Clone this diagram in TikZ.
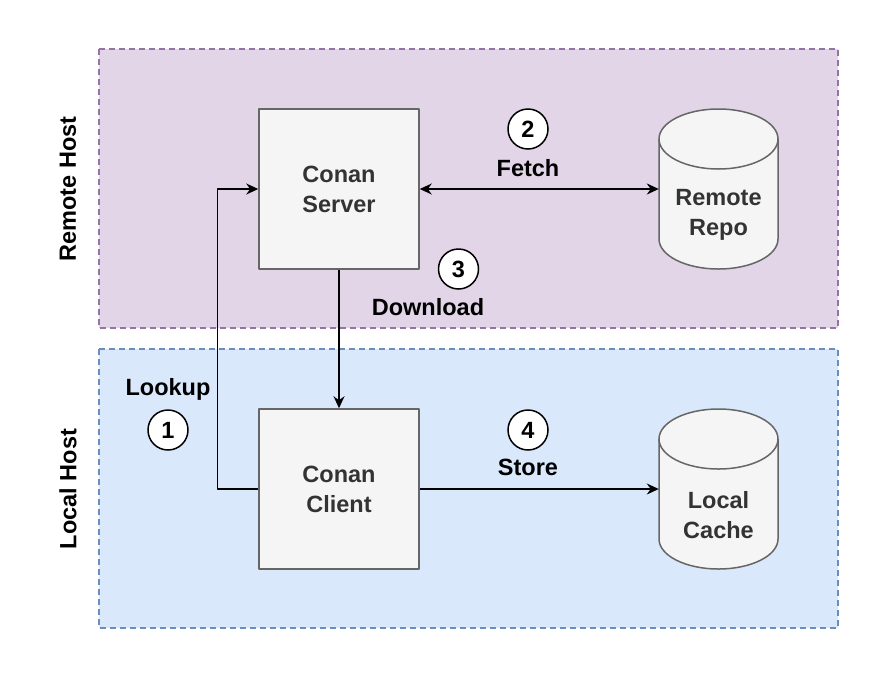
\documentclass[tikz,border=0pt]{standalone}
\usepackage{fontspec}
\setmainfont{Liberation Sans}
\usetikzlibrary{arrows.meta,positioning,calc}
\definecolor{remotefill}{HTML}{E1D5E7}
\definecolor{remoteline}{HTML}{9673A6}
\definecolor{localfill}{HTML}{DAE8FC}
\definecolor{localline}{HTML}{6C8EBF}
\definecolor{boxfill}{HTML}{F5F5F5}
\definecolor{boxline}{HTML}{666666}
\definecolor{boxtext}{HTML}{333333}

\begin{document}
\begin{tikzpicture}[x=1pt,y=-1pt, line join=round,
  font=\fontsize{23.5}{30}\selectfont\bfseries,
  hostbox/.style={dash pattern=on 6pt off 4pt, line width=1.3pt},
  hostlabel/.style={rotate=90},
  conan/.style={draw=boxline, fill=boxfill, line width=1.5pt, text=boxtext, align=center, minimum width=160pt, minimum height=160pt, inner sep=0pt},
  dbnode/.style={minimum width=119pt, minimum height=160pt, inner sep=0pt},
  db/.style={draw=boxline, fill=boxfill, line width=1.5pt},
  dbtext/.style={text=boxtext, align=center},
  badge/.style={circle, draw, fill=white, line width=1.5pt, minimum size=40pt, inner sep=0pt},
  link/.style={line width=1.5pt, -{Stealth[length=12pt,width=11pt]}}]
\useasboundingbox (0,0) rectangle (888,678);
% host areas
\draw[hostbox, draw=remoteline, fill=remotefill] (99,49) rectangle (838,328);
\draw[hostbox, draw=localline, fill=localfill] (99,349) rectangle (838,628);
\node[hostlabel] (remotehost) at (68,189) {Remote Host};
\node[hostlabel] (localhost) at (68,489) {Local Host};
% conan boxes
\node[conan] (server) at (339,189) {Conan\\Server};
\node[conan] (client) at (339,489) {Conan\\Client};
% cylinders
\node[dbnode] (repo) at (718.5,189) {};
\node[dbnode] (cache) at (718.5,489) {};
\draw[db] (659,139) -- (659,239) arc[start angle=180,end angle=0,x radius=59.5,y radius=30] -- (778,139) arc[start angle=0,end angle=-180,x radius=59.5,y radius=30] -- cycle;
\draw[db] (659,139) arc[start angle=180,end angle=0,x radius=59.5,y radius=30];
\draw[db] (659,439) -- (659,539) arc[start angle=180,end angle=0,x radius=59.5,y radius=30] -- (778,439) arc[start angle=0,end angle=-180,x radius=59.5,y radius=30] -- cycle;
\draw[db] (659,439) arc[start angle=180,end angle=0,x radius=59.5,y radius=30];
\node[dbtext] (repotxt) at (718.5,215) {Remote\\Repo};
\node[dbtext] (cachetxt) at (718.5,515) {Local\\Cache};
% connectors
\draw[link] (client.west) -- ++(-41,0) |- (server.west);
\draw[link] (server) -- (client);
\draw[link,{Stealth[length=12pt,width=11pt]}-{Stealth[length=12pt,width=11pt]}] (server) -- (repo);
\draw[link] (client) -- (cache);
% steps
\node[badge] (b1) at (168,430) {1};
\node[badge] (b2) at (528,129) {2};
\node[badge] (b3) at (458.5,269) {3};
\node[badge] (b4) at (528,430) {4};
\node (lookup) at (168,389) {Lookup};
\node (fetch) at (528,168) {Fetch};
\node (download) at (428,307) {Download};
\node (store) at (528,467) {Store};
\end{tikzpicture}
\end{document}
